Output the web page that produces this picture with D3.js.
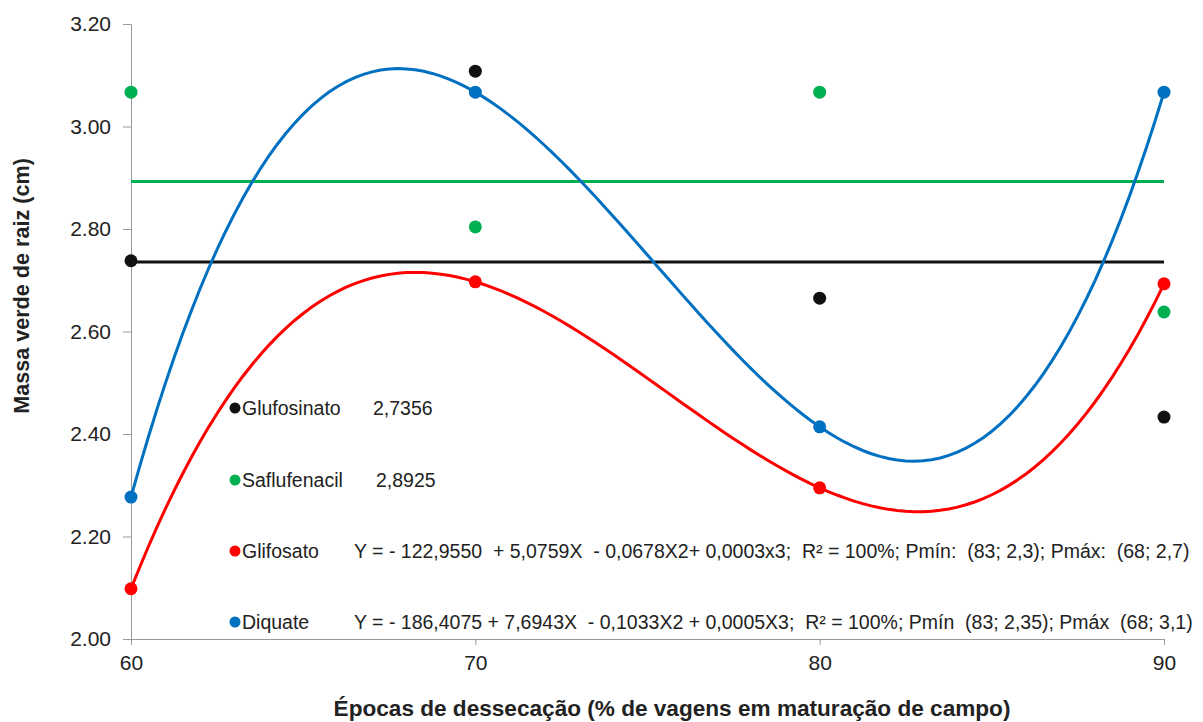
<!DOCTYPE html>
<html>
<head>
<meta charset="utf-8">
<script src="https://cdn.jsdelivr.net/npm/d3@7"></script>
<style>
  body { margin: 0; background: #fff; }
  svg text { font-family: "Liberation Sans", Arial, sans-serif; fill: #222; }
</style>
</head>
<body>
<div id="chart"></div>
<script>
// Data
const epocas = [60, 70, 80, 90];
const glufosinato = [2.738, 3.108, 2.665, 2.433];
const saflufenacil = [3.067, 2.804, 3.067, 2.638];
const glifosato = [2.098, 2.697, 2.295, 2.693];
const diquate = [2.277, 3.067, 2.414, 3.067];
const glufosinatoMean = 2.7356;
const saflufenacilMean = 2.8925;
const yTicks = [2.0, 2.2, 2.4, 2.6, 2.8, 3.0, 3.2];
const legendNames = ["Glufosinato", "Saflufenacil", "Glifosato", "Diquate"];
const legendTexts = [
  "2,7356",
  "2,8925",
  "Y = - 122,9550  + 5,0759X  - 0,0678X2+ 0,0003x3;  R² = 100%; Pmín:  (83; 2,3); Pmáx:  (68; 2,7)",
  "Y = - 186,4075 + 7,6943X  - 0,1033X2 + 0,0005X3;  R² = 100%; Pmín  (83; 2,35); Pmáx  (68; 3,1)"
];

const width = 1203;
const height = 722;
const colors = { glufosinato: "#111111", saflufenacil: "#00b050", glifosato: "#ff0000", diquate: "#0070c0" };

const svg = d3.select("#chart")
  .append("svg")
  .attr("width", width)
  .attr("height", height);

// Scales
const xScale = d3.scaleLinear().domain([60, 90]).range([131, 1164]);
const yScale = d3.scaleLinear().domain([2.0, 3.2]).range([639, 24]);

// y axis
const yAxis = svg.append("g")
  .attr("transform", "translate(131,0)")
  .call(d3.axisLeft(yScale).tickValues(yTicks).tickFormat(d3.format(".2f")).tickSize(8).tickPadding(12));
yAxis.select(".domain").attr("stroke", "#999");
yAxis.selectAll(".tick line").attr("stroke", "#999");
yAxis.selectAll(".tick text").style("font-size", "21px").attr("fill", "#222");

// x axis
const xAxis = svg.append("g")
  .attr("transform", "translate(0,639)")
  .call(d3.axisBottom(xScale).tickValues(epocas).tickSize(6).tickSizeOuter(0).tickPadding(10));
xAxis.select(".domain").attr("stroke", "#999");
xAxis.selectAll(".tick line").attr("stroke", "#999");
xAxis.selectAll(".tick text").style("font-size", "21px").attr("fill", "#222");

// Axis titles
svg.append("text")
  .attr("x", 672).attr("y", 716)
  .attr("text-anchor", "middle")
  .style("font-size", "22.6px").style("font-weight", "bold")
  .text("Épocas de dessecação (% de vagens em maturação de campo)");

svg.append("text")
  .attr("transform", "translate(29,286) rotate(-90)")
  .attr("text-anchor", "middle")
  .style("font-size", "21.6px").style("font-weight", "bold")
  .text("Massa verde de raiz (cm)");

// Mean lines
[[glufosinatoMean, colors.glufosinato], [saflufenacilMean, colors.saflufenacil]].forEach(([m, c]) => {
  svg.append("line")
    .attr("x1", xScale(60)).attr("x2", xScale(90))
    .attr("y1", yScale(m)).attr("y2", yScale(m))
    .attr("stroke", c).attr("stroke-width", 3);
});

// Cubic trendline through the four points (Lagrange form)
function cubicThrough(xs, ys) {
  return x => d3.sum(xs, (xi, i) => {
    let term = ys[i];
    xs.forEach((xj, j) => { if (j !== i) term *= (x - xj) / (xi - xj); });
    return term;
  });
}
const line = d3.line().x(d => xScale(d[0])).y(d => yScale(d[1]));
[[glifosato, colors.glifosato], [diquate, colors.diquate]].forEach(([vals, c]) => {
  const f = cubicThrough(epocas, vals);
  const pts = d3.range(60, 90.01, 0.25).map(x => [x, f(x)]);
  svg.append("path")
    .attr("d", line(pts))
    .attr("fill", "none").attr("stroke", c).attr("stroke-width", 3);
});

// Points
[[glufosinato, colors.glufosinato], [saflufenacil, colors.saflufenacil],
 [glifosato, colors.glifosato], [diquate, colors.diquate]].forEach(([vals, c]) => {
  svg.selectAll(null)
    .data(vals)
    .enter()
    .append("circle")
    .attr("cx", (d, i) => xScale(epocas[i]))
    .attr("cy", d => yScale(d))
    .attr("r", 6.5)
    .attr("fill", c);
});

// Legend annotations
const legendColors = [colors.glufosinato, colors.saflufenacil, colors.glifosato, colors.diquate];
const legendY = [408, 480, 551, 622];
const textX = [373, 376, 354, 354];
legendNames.forEach((name, i) => {
  svg.append("circle").attr("cx", 235).attr("cy", legendY[i]).attr("r", 5.5).attr("fill", legendColors[i]);
  svg.append("text").attr("x", 242).attr("y", legendY[i] + 7)
    .style("font-size", "19.5px").text(name);
  svg.append("text").attr("x", textX[i]).attr("y", legendY[i] + 7)
    .style("font-size", "19.5px").style("white-space", "pre").text(legendTexts[i]);
});
</script>
</body>
</html>
